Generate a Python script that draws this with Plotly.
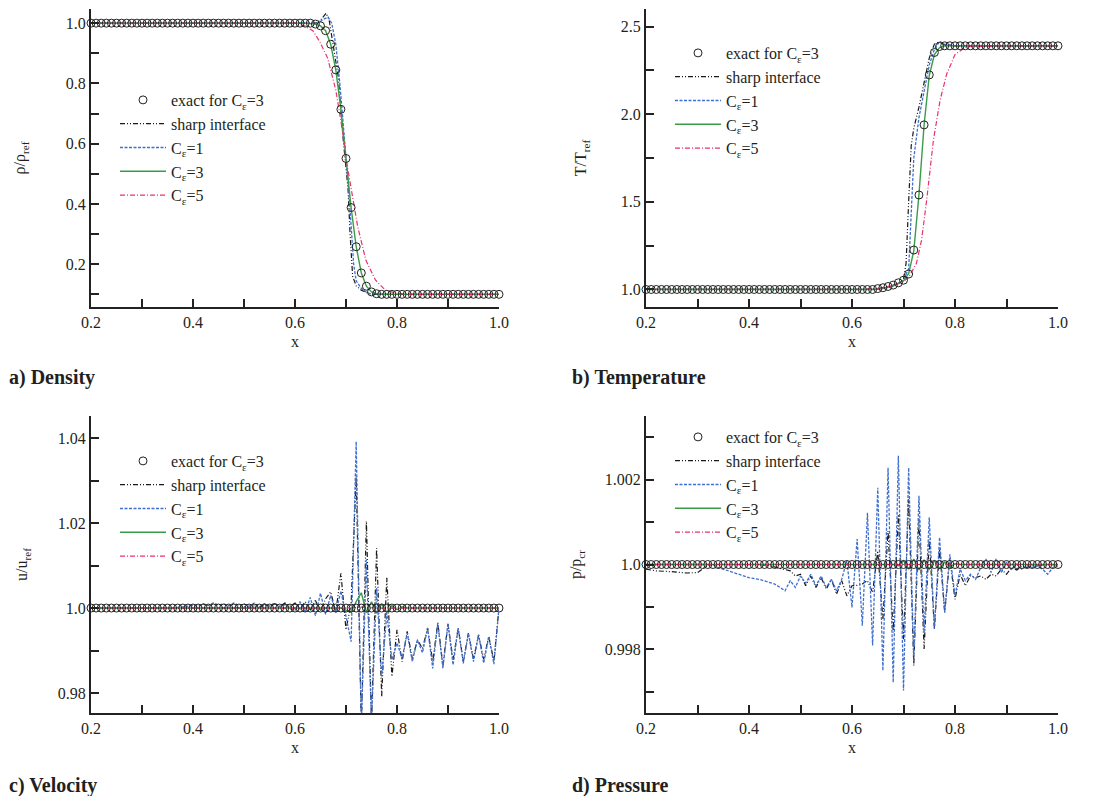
import plotly.graph_objects as go

FONT = "Liberation Serif, Times New Roman, Times, serif"
TXT = "#231f20"

# ---------------- exact solution grid (circles) ----------------
X_EXACT = [0.20, 0.21, 0.22, 0.23, 0.24, 0.25, 0.26, 0.27, 0.28, 0.29,
           0.30, 0.31, 0.32, 0.33, 0.34, 0.35, 0.36, 0.37, 0.38, 0.39,
           0.40, 0.41, 0.42, 0.43, 0.44, 0.45, 0.46, 0.47, 0.48, 0.49,
           0.50, 0.51, 0.52, 0.53, 0.54, 0.55, 0.56, 0.57, 0.58, 0.59,
           0.60, 0.61, 0.62, 0.63, 0.64, 0.65, 0.66, 0.67, 0.68, 0.69,
           0.70, 0.71, 0.72, 0.73, 0.74, 0.75, 0.76, 0.77, 0.78, 0.79,
           0.80, 0.81, 0.82, 0.83, 0.84, 0.85, 0.86, 0.87, 0.88, 0.89,
           0.90, 0.91, 0.92, 0.93, 0.94, 0.95, 0.96, 0.97, 0.98, 0.99, 1.00]

RHO_EXACT = [1.0, 1.0, 1.0, 1.0, 1.0, 1.0, 1.0, 1.0, 1.0, 1.0,
             1.0, 1.0, 1.0, 1.0, 1.0, 1.0, 1.0, 1.0, 1.0, 1.0,
             1.0, 1.0, 1.0, 1.0, 1.0, 1.0, 1.0, 1.0, 1.0, 1.0,
             1.0, 1.0, 1.0, 1.0, 1.0, 1.0, 1.0, 1.0, 1.0, 1.0,
             1.0, 1.0, 1.0, 1.0, 0.997, 0.991, 0.975, 0.930, 0.845, 0.714,
             0.551, 0.388, 0.258, 0.171, 0.127, 0.108, 0.102, 0.1, 0.1, 0.1,
             0.1, 0.1, 0.1, 0.1, 0.1, 0.1, 0.1, 0.1, 0.1, 0.1,
             0.1, 0.1, 0.1, 0.1, 0.1, 0.1, 0.1, 0.1, 0.1, 0.1, 0.1]

T_EXACT = [1.0, 1.0, 1.0, 1.0, 1.0, 1.0, 1.0, 1.0, 1.0, 1.0,
           1.0, 1.0, 1.0, 1.0, 1.0, 1.0, 1.0, 1.0, 1.0, 1.0,
           1.0, 1.0, 1.0, 1.0, 1.0, 1.0, 1.0, 1.0, 1.0, 1.0,
           1.0, 1.0, 1.0, 1.0, 1.0, 1.0, 1.0, 1.0, 1.0, 1.0,
           1.0, 1.0, 1.0, 1.0, 1.0, 1.005, 1.01, 1.017, 1.025, 1.038,
           1.053, 1.088, 1.225, 1.539, 1.939, 2.224, 2.352, 2.386, 2.39, 2.39,
           2.39, 2.39, 2.39, 2.39, 2.39, 2.39, 2.39, 2.39, 2.39, 2.39,
           2.39, 2.39, 2.39, 2.39, 2.39, 2.39, 2.39, 2.39, 2.39, 2.39, 2.39]

U_EXACT = [1.0, 1.0, 1.0, 1.0, 1.0, 1.0, 1.0, 1.0, 1.0, 1.0,
           1.0, 1.0, 1.0, 1.0, 1.0, 1.0, 1.0, 1.0, 1.0, 1.0,
           1.0, 1.0, 1.0, 1.0, 1.0, 1.0, 1.0, 1.0, 1.0, 1.0,
           1.0, 1.0, 1.0, 1.0, 1.0, 1.0, 1.0, 1.0, 1.0, 1.0,
           1.0, 1.0, 1.0, 1.0, 1.0, 1.0, 1.0, 1.0, 1.0, 1.0,
           1.0, 1.0, 1.0, 1.0, 1.0, 1.0, 1.0, 1.0, 1.0, 1.0,
           1.0, 1.0, 1.0, 1.0, 1.0, 1.0, 1.0, 1.0, 1.0, 1.0,
           1.0, 1.0, 1.0, 1.0, 1.0, 1.0, 1.0, 1.0, 1.0, 1.0, 1.0]

P_EXACT = [1.0, 1.0, 1.0, 1.0, 1.0, 1.0, 1.0, 1.0, 1.0, 1.0,
           1.0, 1.0, 1.0, 1.0, 1.0, 1.0, 1.0, 1.0, 1.0, 1.0,
           1.0, 1.0, 1.0, 1.0, 1.0, 1.0, 1.0, 1.0, 1.0, 1.0,
           1.0, 1.0, 1.0, 1.0, 1.0, 1.0, 1.0, 1.0, 1.0, 1.0,
           1.0, 1.0, 1.0, 1.0, 1.0, 1.0, 1.0, 1.0, 1.0, 1.0,
           1.0, 1.0, 1.0, 1.0, 1.0, 1.0, 1.0, 1.0, 1.0, 1.0,
           1.0, 1.0, 1.0, 1.0, 1.0, 1.0, 1.0, 1.0, 1.0, 1.0,
           1.0, 1.0, 1.0, 1.0, 1.0, 1.0, 1.0, 1.0, 1.0, 1.0, 1.0]

# ---------------- a) density ----------------
RHO_SHARP_X = [0.20, 0.64, 0.650, 0.655, 0.661, 0.667, 0.675, 0.685, 0.693, 0.698,
               0.704, 0.708, 0.713, 0.720, 0.730, 0.745, 0.760, 1.00]
RHO_SHARP_Y = [1.0, 1.0, 1.01, 1.022, 1.033, 1.01, 0.93, 0.82, 0.64, 0.56,
               0.45, 0.30, 0.16, 0.128, 0.114, 0.102, 0.1, 0.1]
RHO_C1_X = [0.20, 0.645, 0.655, 0.665, 0.672, 0.680, 0.688, 0.695, 0.700, 0.705,
            0.710, 0.715, 0.720, 0.730, 0.740, 0.750, 1.00]
RHO_C1_Y = [1.0, 1.0, 1.012, 1.02, 1.0, 0.93, 0.80, 0.66, 0.55, 0.45,
            0.33, 0.20, 0.145, 0.12, 0.107, 0.1, 0.1]
RHO_C3_X = [0.20, 0.62, 0.64, 0.65, 0.66, 0.67, 0.68, 0.69, 0.70, 0.71,
            0.72, 0.73, 0.74, 0.75, 0.76, 0.78, 1.00]
RHO_C3_Y = [1.0, 1.0, 0.997, 0.991, 0.975, 0.930, 0.845, 0.714, 0.551, 0.388,
            0.258, 0.171, 0.127, 0.108, 0.102, 0.1, 0.1]
RHO_C5_X = [0.20, 0.60, 0.62, 0.635, 0.648, 0.664, 0.680, 0.694, 0.700, 0.710,
            0.723, 0.739, 0.758, 0.777, 0.800, 0.820, 1.00]
RHO_C5_Y = [1.0, 1.0, 0.99, 0.975, 0.94, 0.884, 0.778, 0.634, 0.551, 0.446,
            0.324, 0.213, 0.147, 0.114, 0.103, 0.1, 0.1]

# ---------------- b) temperature ----------------
T_SHARP_X = [0.20, 0.64, 0.67, 0.69, 0.70, 0.705, 0.710, 0.715, 0.720, 0.730,
             0.740, 0.750, 0.760, 0.770, 0.780, 0.800, 1.00]
T_SHARP_Y = [1.0, 1.0, 1.015, 1.035, 1.06, 1.15, 1.50, 1.82, 1.92, 2.04,
             2.18, 2.32, 2.40, 2.415, 2.395, 2.39, 2.39]
T_C1_X = [0.20, 0.65, 0.68, 0.70, 0.710, 0.715, 0.720, 0.730, 0.740, 0.750,
          0.760, 0.770, 0.780, 0.800, 1.00]
T_C1_Y = [1.0, 1.0, 1.02, 1.05, 1.12, 1.42, 1.75, 1.98, 2.12, 2.28,
          2.37, 2.415, 2.40, 2.39, 2.39]
T_C3_X = [0.20, 0.64, 0.66, 0.68, 0.70, 0.71, 0.72, 0.73, 0.74, 0.75,
          0.76, 0.77, 0.78, 1.00]
T_C3_Y = [1.0, 1.0, 1.005, 1.02, 1.05, 1.09, 1.22, 1.54, 1.94, 2.22,
          2.34, 2.38, 2.39, 2.39]
T_C5_X = [0.20, 0.62, 0.65, 0.68, 0.70, 0.71, 0.725, 0.735, 0.745, 0.758,
          0.771, 0.784, 0.800, 0.823, 1.00]
T_C5_Y = [1.0, 1.0, 1.006, 1.022, 1.045, 1.07, 1.148, 1.28, 1.51, 1.85,
          2.08, 2.23, 2.34, 2.386, 2.39]

# ---------------- c) velocity ----------------
U_SHARP_X = [0.20, 0.48, 0.50, 0.51, 0.52, 0.53, 0.54, 0.55, 0.56, 0.57, 0.58, 0.59,
             0.60, 0.61, 0.62, 0.63, 0.64, 0.65, 0.66, 0.67, 0.68, 0.69,
             0.70, 0.71, 0.72, 0.73, 0.74, 0.75, 0.76, 0.77, 0.78, 0.79,
             0.80, 0.81, 0.82, 0.83, 0.84, 0.85, 0.86, 0.87, 0.88, 0.89,
             0.90, 0.91, 0.92, 0.93, 0.94, 0.95, 0.96, 0.97, 0.98, 0.99, 1.00]
U_SHARP_Y = [1.0, 1.0, 1.0003, 1.0, 1.0005, 1.0001, 1.0007, 1.0002, 1.001, 1.0003, 1.0012, 1.0004,
             1.0012, 0.9998, 1.0015, 0.9996, 1.0018, 0.9993, 1.0022, 1.0038, 0.9990, 1.0082,
             0.9949, 1.0010, 1.0310, 0.9720, 1.0204, 0.9730, 1.0141, 0.9792, 1.0071, 0.9839,
             0.9949, 0.9874, 0.9945, 0.9881, 0.9925, 0.9905, 0.9953, 0.9874, 0.9965, 0.9866,
             0.9963, 0.9878, 0.9953, 0.9874, 0.9941, 0.9880, 0.9937, 0.9880, 0.9933, 0.9875, 1.0000]
U_C1_X = [0.20, 0.36, 0.38, 0.40, 0.41, 0.42, 0.43, 0.44, 0.45, 0.46, 0.47, 0.48, 0.49,
          0.50, 0.51, 0.52, 0.53, 0.54, 0.55, 0.56, 0.57, 0.58, 0.59,
          0.60, 0.61, 0.62, 0.63, 0.64, 0.65, 0.66, 0.67, 0.68, 0.69,
          0.70, 0.71, 0.72, 0.73, 0.74, 0.75, 0.76, 0.77, 0.78, 0.79,
          0.80, 0.81, 0.82, 0.83, 0.84, 0.85, 0.86, 0.87, 0.88, 0.89,
          0.90, 0.91, 0.92, 0.93, 0.94, 0.95, 0.96, 0.97, 0.98, 0.99, 1.00]
U_C1_Y = [1.0, 1.0, 1.0003, 1.0006, 1.0004, 1.0010, 1.0006, 1.0012, 1.0007, 1.0010, 1.0005, 1.0012, 1.0006,
          1.0010, 1.0004, 1.0012, 1.0003, 1.0010, 1.0005, 1.0012, 1.0004, 1.0008, 0.9998,
          0.9995, 1.0015, 0.9990, 1.0025, 0.9982, 1.0035, 0.9985, 1.0030, 0.9990, 1.0040,
          0.9980, 0.9921, 1.0392, 0.9720, 1.0114, 0.9730, 1.0047, 0.9839, 0.9988, 0.9878,
          0.9918, 0.9881, 0.9941, 0.9874, 0.9925, 0.9895, 0.9953, 0.9858, 0.9965, 0.9858,
          0.9963, 0.9866, 0.9953, 0.9870, 0.9941, 0.9874, 0.9937, 0.9870, 0.9933, 0.9868, 1.0000]
U_C3_X = [0.20, 0.69, 0.70, 0.71, 0.72, 0.73, 0.74, 0.75, 0.76, 0.77, 0.78, 0.79, 0.80, 0.81, 0.82, 1.00]
U_C3_Y = [1.0, 1.0, 0.9995, 0.9990, 1.0015, 1.0036, 0.9990, 1.0015, 0.9988, 1.0010, 0.9990, 1.0006,
          0.9996, 1.0003, 1.0, 1.0]
U_C5_X = [0.20, 0.70, 0.73, 0.76, 1.00]
U_C5_Y = [1.0, 1.0, 1.0002, 1.0, 1.0]

# ---------------- d) pressure ----------------
P_SHARP_X = [0.20, 0.22, 0.25, 0.28, 0.30, 0.31, 0.32, 0.33, 0.42, 0.44, 0.46, 0.48, 0.49,
             0.50, 0.51, 0.52, 0.53, 0.54, 0.55, 0.56, 0.57, 0.58, 0.59,
             0.60, 0.61, 0.62, 0.63, 0.64, 0.65, 0.66, 0.67, 0.68, 0.69,
             0.70, 0.71, 0.72, 0.73, 0.74, 0.75, 0.76, 0.77, 0.78, 0.79,
             0.80, 0.81, 0.82, 0.83, 0.84, 0.85, 0.86, 0.87, 0.88, 0.89,
             0.90, 0.91, 0.92, 0.93, 0.94, 0.95, 1.00]
P_SHARP_Y = [0.99989, 0.99985, 0.99983, 0.99980, 0.99981, 0.99989, 0.99998, 1.0, 1.0, 0.99997, 0.99991, 0.99985, 0.99973,
             0.99977, 0.99950, 0.99973, 0.99946, 0.99969, 0.99942, 0.99965, 0.99930, 0.99962, 0.99926,
             0.99950, 0.99951, 0.99954, 0.99962, 0.99934, 1.00032, 0.99871, 1.00079, 0.99840, 1.00118,
             0.99824, 1.00154, 0.99762, 1.00107, 0.99801, 1.00060, 0.99848, 1.00036, 0.99887, 1.00013,
             0.99918, 0.99977, 0.99950, 0.99973, 0.99969, 0.99973, 0.99965, 0.99977, 0.99973, 0.99989,
             0.99977, 0.99993, 0.99987, 0.99997, 0.99993, 0.99998, 1.0]
P_C1_X = [0.20, 0.33, 0.34, 0.36, 0.38, 0.40, 0.42, 0.44, 0.45, 0.46, 0.47, 0.48, 0.49,
          0.50, 0.51, 0.52, 0.53, 0.54, 0.55, 0.56, 0.57, 0.58, 0.59,
          0.60, 0.61, 0.62, 0.63, 0.64, 0.65, 0.66, 0.67, 0.68, 0.69,
          0.70, 0.71, 0.72, 0.73, 0.74, 0.75, 0.76, 0.77, 0.78, 0.79,
          0.80, 0.81, 0.82, 0.83, 0.84, 0.85, 0.86, 0.87, 0.88, 0.89,
          0.90, 0.91, 0.92, 0.93, 0.94, 0.95, 0.96, 0.97, 0.98, 0.99, 1.00]
P_C1_Y = [1.0, 1.0, 0.99993, 0.99985, 0.99977, 0.99969, 0.99965, 0.99958, 0.99954, 0.99946, 0.99938, 0.99962, 0.99946,
          0.99973, 0.99956, 0.99977, 0.99950, 0.99973, 0.99946, 0.99965, 0.99938, 0.99965, 1.00009,
          0.99899, 1.00060, 0.99856, 1.00122, 0.99809, 1.00181, 0.99750, 1.00228, 0.99722, 1.00256,
          0.99703, 1.00228, 0.99777, 1.00162, 0.99840, 1.00111, 0.99848, 1.00064, 0.99887, 1.00024,
          0.99926, 0.99989, 0.99962, 0.99977, 0.99965, 0.99993, 1.00013, 0.99981, 1.00014, 0.99981,
          1.00005, 0.99989, 1.00001, 0.99989, 0.99997, 0.99993, 0.99997, 0.99989, 0.99977, 0.99993, 0.99997]
P_C3_X = [0.20, 0.68, 0.69, 0.70, 0.71, 0.72, 0.73, 0.74, 0.75, 0.76, 0.77, 0.78, 0.79, 0.80, 0.81, 1.00]
P_C3_Y = [1.0, 1.0, 0.99997, 1.00009, 0.99989, 1.00013, 0.99987, 1.00011, 0.99989, 1.00009, 0.99991,
          1.00006, 0.99995, 1.00002, 1.0, 1.0]
P_C5_X = [0.20, 1.00]
P_C5_Y = [1.0, 1.0]

LABELS = ["exact for C<sub>ε</sub>=3", "sharp interface", "C<sub>ε</sub>=1",
          "C<sub>ε</sub>=3", "C<sub>ε</sub>=5"]
PANEL_TITLES = ["a) Density", "b) Temperature", "c) Velocity", "d) Pressure"]

# ---------------- styling ----------------
C_BLACK = "#1a1a1a"
C_BLUE = "#3f6fcf"
C_GREEN = "#3a9c48"
C_PINK = "#e8336d"
DASH_SHARP = "5px,2px,1px,2px,1px,2px"
DASH_C1 = "3px,1.5px"
DASH_C5 = "5px,2px,1px,2px"
LINE_STYLES = [dict(color=C_BLACK, width=1.2, dash=DASH_SHARP),
               dict(color=C_BLUE, width=1.3, dash=DASH_C1),
               dict(color=C_GREEN, width=1.4, dash="solid"),
               dict(color=C_PINK, width=1.2, dash=DASH_C5)]

panels = [
    (X_EXACT, RHO_EXACT, [(RHO_SHARP_X, RHO_SHARP_Y), (RHO_C1_X, RHO_C1_Y), (RHO_C3_X, RHO_C3_Y), (RHO_C5_X, RHO_C5_Y)]),
    (X_EXACT, T_EXACT, [(T_SHARP_X, T_SHARP_Y), (T_C1_X, T_C1_Y), (T_C3_X, T_C3_Y), (T_C5_X, T_C5_Y)]),
    (X_EXACT, U_EXACT, [(U_SHARP_X, U_SHARP_Y), (U_C1_X, U_C1_Y), (U_C3_X, U_C3_Y), (U_C5_X, U_C5_Y)]),
    (X_EXACT, P_EXACT, [(P_SHARP_X, P_SHARP_Y), (P_C1_X, P_C1_Y), (P_C3_X, P_C3_Y), (P_C5_X, P_C5_Y)]),
]

fig = go.Figure()
for i, (xe, ye, series) in enumerate(panels):
    sfx = "" if i == 0 else str(i + 1)
    common = dict(xaxis="x" + sfx, yaxis="y" + sfx, legend="legend" + sfx)
    for k, (sx, sy) in enumerate(series):
        fig.add_trace(go.Scatter(x=sx, y=sy, mode="lines", name=LABELS[k + 1], legendrank=k + 2,
                                 line=LINE_STYLES[k], **common))
    fig.add_trace(go.Scatter(x=xe, y=ye, mode="markers", name=LABELS[0], legendrank=1,
                             marker=dict(symbol="circle-open", size=8, color="#222",
                                         line=dict(width=1, color="#222")),
                             cliponaxis=False, **common))

W, H = 1095, 796
def dx(a, b):
    return [a / W, b / W]
def dy(top, bot):
    return [1 - bot / H, 1 - top / H]

tickfont = dict(family=FONT, size=16, color=TXT)
titlefont = dict(family=FONT, size=16, color=TXT)

def xaxis(dom, anchor):
    return dict(domain=dom, anchor=anchor, range=[0.2, 1.0],
                tickvals=[0.2, 0.4, 0.6, 0.8, 1.0], ticktext=["0.2", "0.4", "0.6", "0.8", "1.0"],
                ticks="inside", ticklen=8, tickwidth=1.5, tickcolor="#222",
                minor=dict(tickvals=[0.3, 0.5, 0.7, 0.9], ticks="inside", ticklen=8,
                           tickwidth=1.5, tickcolor="#222"),
                showline=True, linecolor="#222", linewidth=2, showgrid=False, zeroline=False,
                tickfont=tickfont, title=dict(text="x", font=titlefont, standoff=6),
                automargin=False)

def yaxis(dom, anchor, rng, tv, tt, mv, title, standoff):
    return dict(domain=dom, anchor=anchor, range=rng, tickvals=tv, ticktext=tt,
                ticks="inside", ticklen=8, tickwidth=1.5, tickcolor="#222",
                minor=dict(tickvals=mv, ticks="inside", ticklen=8, tickwidth=1.5, tickcolor="#222"),
                showline=True, linecolor="#222", linewidth=2, showgrid=False, zeroline=False,
                tickfont=tickfont, title=dict(text=title, font=titlefont, standoff=standoff),
                automargin=False)

XL, XR = dx(91, 499), dx(646, 1058)
YT, YB = dy(9, 307), dy(416, 713)

fig.update_layout(
    width=W, height=H, margin=dict(l=0, r=0, t=0, b=0),
    paper_bgcolor="white", plot_bgcolor="white",
    font=dict(family=FONT, color=TXT, size=16),
    xaxis=xaxis(XL, "y"), xaxis2=xaxis(XR, "y2"), xaxis3=xaxis(XL, "y3"), xaxis4=xaxis(XR, "y4"),
    yaxis=yaxis(YT, "x", [0.058, 1.047], [0.2, 0.4, 0.6, 0.8, 1.0],
                ["0.2", "0.4", "0.6", "0.8", "1.0"], [0.1, 0.3, 0.5, 0.7, 0.9], "ρ/ρ<sub>ref</sub>", 36),
    yaxis2=yaxis(YT, "x2", [0.9, 2.6], [1.0, 1.5, 2.0, 2.5],
                 ["1.0", "1.5", "2.0", "2.5"], [1.25, 1.75, 2.25], "T/T<sub>ref</sub>", 30),
    yaxis3=yaxis(YB, "x3", [0.9753, 1.0452], [0.98, 1.0, 1.02, 1.04],
                 ["0.98", "1.0", "1.02", "1.04"], [0.99, 1.01, 1.03], "u/u<sub>ref</sub>", 26),
    yaxis4=yaxis(YB, "x4", [0.9965, 1.0035], [0.998, 1.0, 1.002],
                 ["0.998", "1.0", "1.002"], [0.997, 0.999, 1.001, 1.003], "p/p<sub>cr</sub>", 19),
)

legfont = dict(family=FONT, size=16, color=TXT)
def leg(xpx, ypx):
    return dict(x=xpx / W, y=1 - ypx / H, xanchor="left", yanchor="top",
                bgcolor="rgba(0,0,0,0)", borderwidth=0, font=legfont,
                itemwidth=46, traceorder="normal")

fig.update_layout(legend=leg(115, 83), legend2=leg(670, 36),
                  legend3=leg(115, 444), legend4=leg(670, 420))

labfont = dict(family=FONT, size=20, color=TXT)
for txt, xpx, ypx in zip(PANEL_TITLES, [7, 570, 7, 570], [377, 377, 785, 785]):
    fig.add_annotation(text="<b>" + txt + "</b>", x=xpx / W, y=1 - ypx / H, xref="paper", yref="paper",
                       xanchor="left", yanchor="middle", showarrow=False, font=labfont)

fig.write_html("out.html")
